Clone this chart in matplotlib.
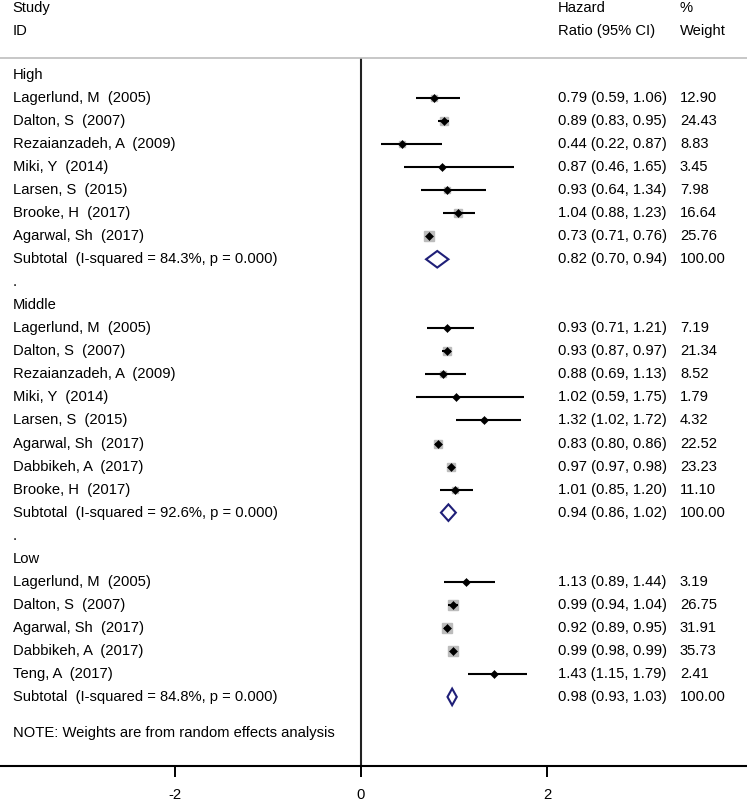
import matplotlib
matplotlib.use("Agg")
import matplotlib.pyplot as plt
import numpy as np

# %%
# data
high_names = ["Lagerlund, M  (2005)", "Dalton, S  (2007)", "Rezaianzadeh, A  (2009)",
              "Miki, Y  (2014)", "Larsen, S  (2015)", "Brooke, H  (2017)", "Agarwal, Sh  (2017)"]
high_hr = [0.79, 0.89, 0.44, 0.87, 0.93, 1.04, 0.73]
high_lo = [0.59, 0.83, 0.22, 0.46, 0.64, 0.88, 0.71]
high_hi = [1.06, 0.95, 0.87, 1.65, 1.34, 1.23, 0.76]
high_wt = [12.90, 24.43, 8.83, 3.45, 7.98, 16.64, 25.76]
high_sub = (0.82, 0.70, 0.94, "84.3%")

mid_names = ["Lagerlund, M  (2005)", "Dalton, S  (2007)", "Rezaianzadeh, A  (2009)",
             "Miki, Y  (2014)", "Larsen, S  (2015)", "Agarwal, Sh  (2017)",
             "Dabbikeh, A  (2017)", "Brooke, H  (2017)"]
mid_hr = [0.93, 0.93, 0.88, 1.02, 1.32, 0.83, 0.97, 1.01]
mid_lo = [0.71, 0.87, 0.69, 0.59, 1.02, 0.80, 0.97, 0.85]
mid_hi = [1.21, 0.97, 1.13, 1.75, 1.72, 0.86, 0.98, 1.20]
mid_wt = [7.19, 21.34, 8.52, 1.79, 4.32, 22.52, 23.23, 11.10]
mid_sub = (0.94, 0.86, 1.02, "92.6%")

low_names = ["Lagerlund, M  (2005)", "Dalton, S  (2007)", "Agarwal, Sh  (2017)",
             "Dabbikeh, A  (2017)", "Teng, A  (2017)"]
low_hr = [1.13, 0.99, 0.92, 0.99, 1.43]
low_lo = [0.89, 0.94, 0.89, 0.98, 1.15]
low_hi = [1.44, 1.04, 0.95, 0.99, 1.79]
low_wt = [3.19, 26.75, 31.91, 35.73, 2.41]
low_sub = (0.98, 0.93, 1.03, "84.8%")

groups = [
    ("High", high_names, high_hr, high_lo, high_hi, high_wt, high_sub),
    ("Middle", mid_names, mid_hr, mid_lo, mid_hi, mid_wt, mid_sub),
    ("Low", low_names, low_hr, low_lo, low_hi, low_wt, low_sub),
]

xticks = [-2, 0, 2]

# %%
plt.rcParams['font.family'] = ['Liberation Sans', 'DejaVu Sans']
fs = 10.6
navy = '#1f1f78'

fig = plt.figure(figsize=(7.47, 8.01), dpi=100)
ax = fig.add_axes([0, 35 / 801, 1, 708 / 801])
ax.set_xlim(-3.882, 4.151)
ax.set_ylim(30.0, -0.738)

x_lab = -3.745   # study column
x_ci = 2.120     # HR (95% CI) column
x_wt = 3.430     # weight column

# headers
ax.text(x_lab, -2.91, "Study", fontsize=fs, va='center')
ax.text(x_lab, -1.91, "ID", fontsize=fs, va='center')
ax.text(x_ci, -2.91, "Hazard", fontsize=fs, va='center')
ax.text(x_ci, -1.91, "Ratio (95% CI)", fontsize=fs, va='center')
ax.text(x_wt, -2.91, "%", fontsize=fs, va='center')
ax.text(x_wt, -1.91, "Weight", fontsize=fs, va='center')

row = 0
for gi, (label, names, hr, lo, hi, wt, sub) in enumerate(groups):
    if gi > 0:
        ax.text(x_lab, row, ".", fontsize=fs, va='center')
        row += 1
    ax.text(x_lab, row, label, fontsize=fs, va='center')
    row += 1
    for name, h, l, u, w in zip(names, hr, lo, hi, wt):
        side = 1.8 * np.sqrt(w) * 0.72
        ax.plot(h, row, marker='s', markersize=side, color='#bcbcbc', zorder=2)
        ax.plot([l, u], [row, row], color='black', lw=1.5, zorder=3, solid_capstyle='butt')
        ax.plot(h, row, marker='D', markersize=4.2, color='black', mew=0.4, zorder=4)
        ax.text(x_lab, row, name, fontsize=fs, va='center')
        ax.text(x_ci, row, f"{h:.2f} ({l:.2f}, {u:.2f})", fontsize=fs, va='center')
        ax.text(x_wt, row, f"{w:.2f}", fontsize=fs, va='center')
        row += 1
    # pooled estimate diamond
    est, slo, shi, isq = sub
    ax.fill([slo, est, shi, est], [row, row - 0.36, row, row + 0.36],
            facecolor='white', edgecolor=navy, lw=1.5, zorder=4)
    ax.text(x_lab, row, f"Subtotal  (I-squared = {isq}, p = 0.000)", fontsize=fs, va='center')
    ax.text(x_ci, row, f"{est:.2f} ({slo:.2f}, {shi:.2f})", fontsize=fs, va='center')
    ax.text(x_wt, row, "100.00", fontsize=fs, va='center')
    row += 1

ax.text(x_lab, 28.57, "NOTE: Weights are from random effects analysis", fontsize=fs, va='center')

# null line and axes
ax.axvline(0, color='#222222', lw=1.5, zorder=1)
for s in ['left', 'right']:
    ax.spines[s].set_visible(False)
ax.spines['top'].set_color('#bdbdbd')
ax.spines['top'].set_linewidth(1.2)
ax.spines['bottom'].set_linewidth(1.5)
ax.set_yticks([])
ax.set_xticks(xticks)
ax.set_xticklabels([str(t) for t in xticks])
ax.tick_params(axis='x', length=8, width=1.4, pad=8, labelsize=fs)

fig.savefig('out.png', dpi=100)
